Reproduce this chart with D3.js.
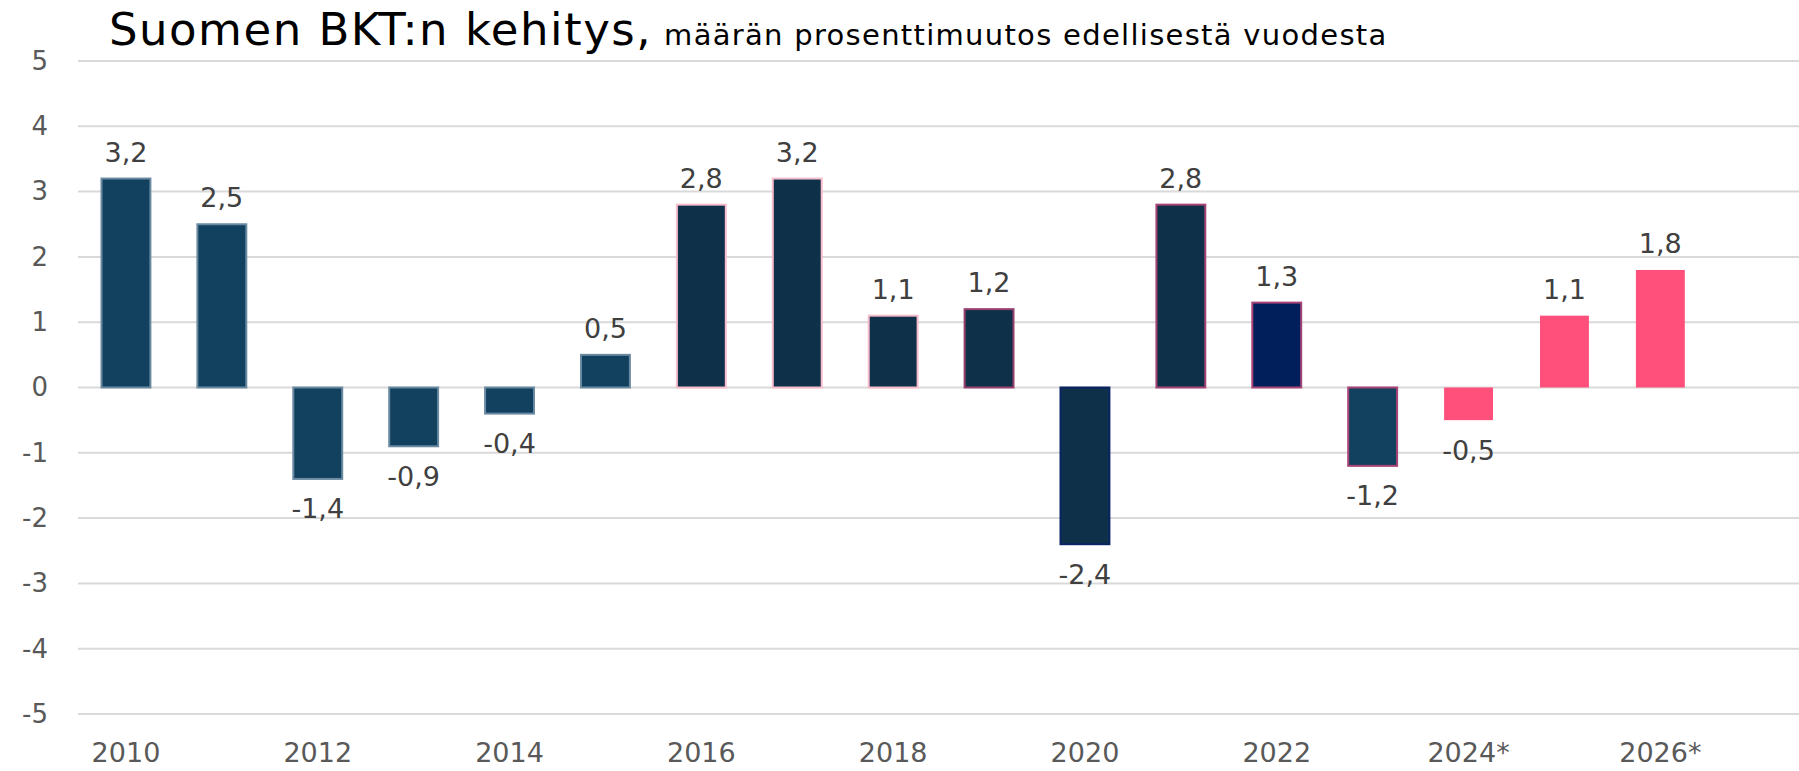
<!DOCTYPE html>
<html>
<head>
<meta charset="utf-8">
<script src="https://cdn.jsdelivr.net/npm/d3@7"></script>
<style>
  body { margin: 0; background: #fff; }
  .tick text { font-family: "DejaVu Sans", sans-serif; }
</style>
</head>
<body>
<svg class="chart"></svg>
<script>
// Data
var years = ["2010","2011","2012","2013","2014","2015","2016","2017","2018","2019","2020","2021","2022","2023","2024*","2025*","2026*","2027*"];
var growth = [3.2, 2.5, -1.4, -0.9, -0.4, 0.5, 2.8, 3.2, 1.1, 1.2, -2.4, 2.8, 1.3, -1.2, -0.5, 1.1, 1.8, null];
var yTicks = [-5, -4, -3, -2, -1, 0, 1, 2, 3, 4, 5];

// Bar colours (fill / outline), one per year
var barFills = ["#12405f","#12405f","#12405f","#12405f","#12405f","#12405f",
                "#0e3049","#0e3049","#0e3049","#0e3049","#0e3049","#0e3049",
                "#001f5b","#12405f","#ff507c","#ff507c","#ff507c","none"];
var barStrokes = ["#6a8aa2","#6a8aa2","#6a8aa2","#6a8aa2","#6a8aa2","#6a8aa2",
                  "#f7bccd","#f7bccd","#f7bccd","#99406f","#0a2463","#a84476",
                  "#a84476","#a84476","none","none","none","none"];

var data = years.map((y, i) => ({ year: y, value: growth[i], fill: barFills[i], stroke: barStrokes[i] }));

/******** Make Chart ********/
const width = 1799;
const height = 771;
const marginLeft = 78;
const plotTop = 61;
const plotBottom = 714;

var x = d3.scaleBand()
    .domain(years)
    .range([marginLeft, marginLeft + 18 * 95.9])
    .paddingInner(0.49)
    .paddingOuter(0.245);

var y = d3.scaleLinear()
    .domain([-5, 5])
    .range([plotBottom, plotTop]);

var canvas = d3.select(".chart")
    .attr("width", width)
    .attr("height", height);

// Gridlines
canvas.append("g")
    .selectAll("line")
    .data(yTicks)
    .enter()
    .append("line")
    .attr("x1", marginLeft)
    .attr("x2", width)
    .attr("y1", d => y(d))
    .attr("y2", d => y(d))
    .attr("stroke", "#d9d9d9")
    .attr("stroke-width", 2);

// Y axis
var yAxis = d3.axisLeft(y)
    .tickValues(yTicks)
    .tickSize(0)
    .tickPadding(0)
    .tickFormat(d => d3.format("d")(d).replace("−", "-"));

var yAxisGroup = canvas.append("g")
    .attr("transform", "translate(48,0)")
    .call(yAxis);
yAxisGroup.select(".domain").remove();
yAxisGroup.selectAll("text")
    .style("font-size", "26px")
    .style("fill", "#595959");

// X axis (every other label)
var xAxis = d3.axisBottom(x)
    .tickSize(0)
    .tickPadding(0)
    .tickFormat((d, i) => i % 2 === 0 ? d : "");

var xAxisGroup = canvas.append("g")
    .attr("transform", "translate(0," + 742 + ")")
    .call(xAxis);
xAxisGroup.select(".domain").remove();
xAxisGroup.selectAll("text")
    .attr("dy", "0.75em")
    .style("font-size", "27px")
    .style("fill", "#595959");

// Bars
var barData = data.filter(d => d.value !== null);

canvas.append("g")
    .selectAll("rect")
    .data(barData)
    .enter()
    .append("rect")
    .attr("x", d => x(d.year))
    .attr("y", d => y(Math.max(0, d.value)))
    .attr("width", x.bandwidth())
    .attr("height", d => Math.abs(y(d.value) - y(0)))
    .attr("fill", d => d.fill)
    .attr("stroke", d => d.stroke)
    .attr("stroke-width", 2);

// Value labels
var fmt = d3.format(".1f");
canvas.append("g")
    .selectAll("text")
    .data(barData)
    .enter()
    .append("text")
    .attr("x", d => x(d.year) + x.bandwidth() / 2)
    .attr("y", d => d.value >= 0 ? y(d.value) - 17 : y(d.value) + 20)
    .attr("dy", d => d.value >= 0 ? 0 : "0.72em")
    .text(d => fmt(d.value).replace(".", ",").replace("−", "-"))
    .style("font-family", "DejaVu Sans, sans-serif")
    .style("font-size", "27px")
    .style("fill", "#404040")
    .style("text-anchor", "middle");

// Title
var title = canvas.append("text")
    .attr("x", 109)
    .attr("y", 45)
    .style("font-family", "DejaVu Sans, sans-serif")
    .style("fill", "#000");
title.append("tspan")
    .style("font-size", "45px")
    .style("letter-spacing", "1.5px")
    .text("Suomen BKT:n kehitys,");
title.append("tspan")
    .attr("dx", 12)
    .style("font-size", "29px")
    .style("letter-spacing", "1.3px")
    .text("määrän prosenttimuutos edellisestä vuodesta");
</script>
</body>
</html>
